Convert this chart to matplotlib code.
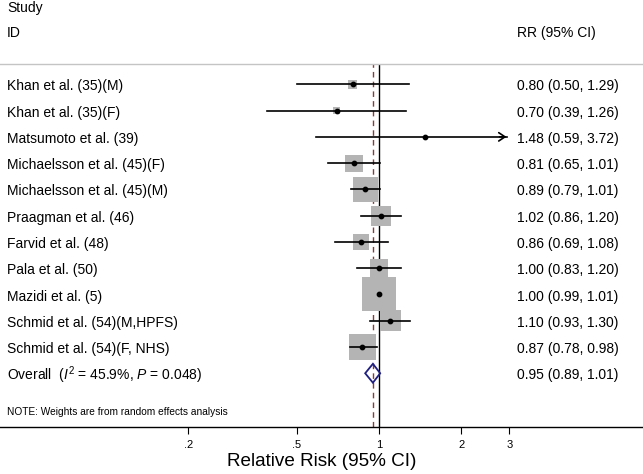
import matplotlib
matplotlib.use("Agg")
import matplotlib.pyplot as plt
import numpy as np
from matplotlib.patches import Polygon

plt.rcParams['font.family'] = ['Liberation Sans', 'DejaVu Sans']
plt.rcParams['mathtext.fontset'] = 'custom'
plt.rcParams['mathtext.rm'] = 'Liberation Sans'
plt.rcParams['mathtext.it'] = 'Liberation Sans:italic'

studies = ["Khan et al. (35)(M)", "Khan et al. (35)(F)", "Matsumoto et al. (39)",
           "Michaelsson et al. (45)(F)", "Michaelsson et al. (45)(M)", "Praagman et al. (46)",
           "Farvid et al. (48)", "Pala et al. (50)", "Mazidi et al. (5)",
           "Schmid et al. (54)(M,HPFS)", "Schmid et al. (54)(F, NHS)"]
rr = [0.80, 0.70, 1.48, 0.81, 0.89, 1.02, 0.86, 1.00, 1.00, 1.10, 0.87]
lo = [0.50, 0.39, 0.59, 0.65, 0.79, 0.86, 0.69, 0.83, 0.99, 0.93, 0.78]
hi = [1.29, 1.26, 3.72, 1.01, 1.01, 1.20, 1.08, 1.20, 1.01, 1.30, 0.98]
weights = [1.9, 1.1, 0.2, 6.7, 14.4, 9.2, 5.9, 8.3, 26.6, 10.2, 15.6]
overall_label = r"Overall  ($I^2$ = 45.9%, $P$ = 0.048)"
overall = (0.95, 0.89, 1.01)
tick_vals = [0.2, 0.5, 1, 2, 3]
tick_labels = [".2", ".5", "1", "2", "3"]
axis_max = 3.0

W, H = 643, 474
fig = plt.figure(figsize=(W / 100, H / 100), dpi=100)
top_px, bot_px = 64, 427
ax = fig.add_axes([0, (H - bot_px) / H, 1, (bot_px - top_px) / H])
ax.set_xscale('log')
ppd = 273.0  # pixels per decade
x_one = 379.0
ax.set_xlim(10 ** (-x_one / ppd), 10 ** ((W - x_one) / ppd))
row0, dy = 84.3, 26.27
ax.set_ylim((bot_px - row0) / dy, (top_px - row0) / dy)

for s in ['left', 'right']:
    ax.spines[s].set_visible(False)
ax.spines['top'].set_color('#c4c4c4')
ax.spines['top'].set_linewidth(1.0)
ax.spines['bottom'].set_color('black')
ax.spines['bottom'].set_linewidth(1.0)
ax.set_yticks([])
ax.set_xticks(tick_vals)
ax.set_xticklabels(tick_labels, fontsize=8)
ax.minorticks_off()
ax.tick_params(axis='x', which='major', direction='out', length=5, width=0.8, pad=4)

ax.axvline(1, color='black', lw=1.0, zorder=1)
ax.axvline(overall[0], color='#8b3a3a', lw=1.0, ls=(0, (4, 3)), zorder=1)

n = len(studies)
ys = np.arange(n)
k = 6.59  # px side per sqrt(weight)
sides_pt = k * np.sqrt(weights) * 0.72
ax.scatter(rr, ys, s=sides_pt ** 2, marker='s', color='#b4b4b4', linewidths=0, zorder=2)
for i in range(n):
    if hi[i] > axis_max:
        ax.plot([lo[i], axis_max * 0.985], [ys[i], ys[i]], color='black', lw=1.2, zorder=3)
        ax.annotate('', xy=(axis_max, ys[i]), xytext=(axis_max * 0.9, ys[i]),
                    arrowprops=dict(arrowstyle='->,head_length=0.45,head_width=0.3',
                                    color='black', lw=1.2), zorder=3)
    else:
        ax.plot([lo[i], hi[i]], [ys[i], ys[i]], color='black', lw=1.2, zorder=3)
ax.scatter(rr, ys, s=10, color='black', zorder=4)

yo = n
est, olo, ohi = overall
hh = 0.36
diamond = Polygon([(olo, yo), (est, yo - hh), (ohi, yo), (est, yo + hh)],
                  closed=True, fill=False, edgecolor='#1f1f80', lw=1.3, zorder=4)
ax.add_patch(diamond)

tf = ax.get_yaxis_transform()
xl = 7 / W
xr = 517 / W
fs = 10
for i in range(n):
    ax.text(xl, ys[i] + 0.08, studies[i], transform=tf,
            ha='left', va='center', fontsize=fs)
    ax.text(xr, ys[i] + 0.08, f"{rr[i]:.2f} ({lo[i]:.2f}, {hi[i]:.2f})",
            transform=tf, ha='left', va='center', fontsize=fs)
ax.text(xl, yo + 0.08, overall_label, transform=tf, ha='left', va='center', fontsize=fs)
ax.text(xr, yo + 0.08, f"{est:.2f} ({olo:.2f}, {ohi:.2f})", transform=tf,
        ha='left', va='center', fontsize=fs)
ax.text(xl, (412 - row0) / dy, "NOTE: Weights are from random effects analysis",
        transform=tf, ha='left', va='center', fontsize=7.25)

fig.text(xl, 1 - 8 / H, "Study", ha='left', va='center', fontsize=fs)
fig.text(xl, 1 - 33 / H, "ID", ha='left', va='center', fontsize=fs)
fig.text(xr, 1 - 33 / H, "RR (95% CI)", ha='left', va='center', fontsize=fs)
fig.text(321.5 / W, 1 - 462 / H, "Relative Risk (95% CI)", ha='center', va='center', fontsize=13.6)

fig.savefig("out.png", dpi=100)
